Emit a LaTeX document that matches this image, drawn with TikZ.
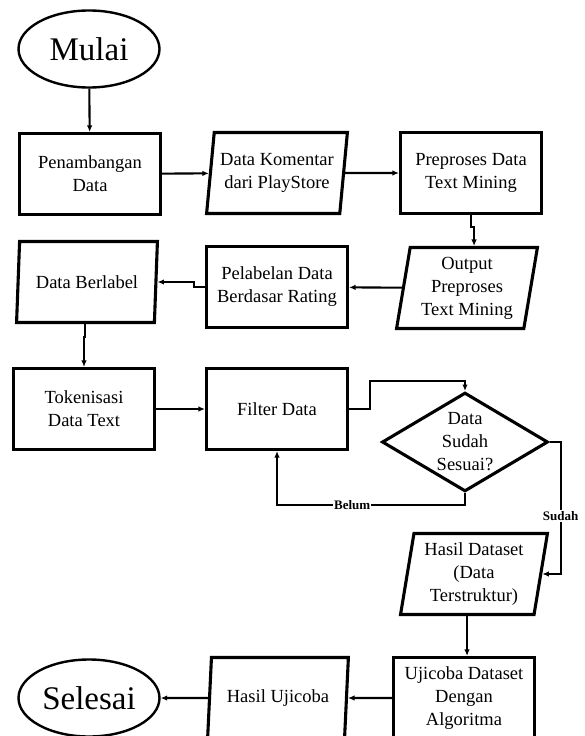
\documentclass[tikz,border=0pt]{standalone}
\usepackage{fontspec}
\setmainfont{Liberation Serif}
\usetikzlibrary{arrows.meta,shapes.geometric}
\tikzset{
  ujung/.style={draw,ellipse,line width=2.4pt,minimum width=141pt,minimum height=77pt,inner sep=0pt,
                font=\fontsize{33}{38}\selectfont},
  proses/.style={draw,rectangle,line width=3.1pt,minimum width=141pt,minimum height=81pt,align=center,
                 inner sep=2pt},
  masukan/.style={draw,trapezium,trapezium left angle=80,trapezium right angle=100,trapezium stretches=true,
                  line width=3.1pt,minimum width=141pt,minimum height=81pt,align=center,inner sep=0pt},
  keputusan/.style={draw,diamond,line width=3.1pt,minimum width=166pt,minimum height=97pt,inner sep=-4pt,
                    align=center},
  panah/.style={-{Latex[length=6.5pt,width=5.5pt]},line width=2.1pt},
  ket/.style={font=\fontsize{13}{15}\selectfont\bfseries,fill=white,inner sep=1pt},
}
\begin{document}
\begin{tikzpicture}[x=1pt,y=-1pt,font=\fontsize{18.5}{23}\selectfont]
  \clip (0,0) rectangle (584,736);
  \node[ujung] (mulai) at (89,49) {Mulai};
  \node[proses] (tambang) at (90,174) {Penambangan\\Data};
  \node[masukan] (komentar) at (277,173) {Data Komentar\\dari PlayStore};
  \node[proses] (prepro) at (471,173) {Preproses Data\\Text Mining};
  \node[masukan] (output) at (467,288) {Output\\Preproses\\Text Mining};
  \node[proses] (pelabelan) at (277,287) {Pelabelan Data\\Berdasar Rating};
  \node[masukan] (berlabel) at (87,282) {Data Berlabel};
  \node[proses] (token) at (84,409) {Tokenisasi\\Data Text};
  \node[proses] (filter) at (277,409) {Filter Data};
  \node[keputusan] (cek) at (465,442) {Data\\Sudah\\Sesuai?};
  \node[masukan,minimum width=147pt] (hasil) at (474,574) {Hasil Dataset\\(Data\\Terstruktur)};
  \node[proses] (uji) at (464,698) {Ujicoba Dataset\\Dengan\\Algoritma};
  \node[masukan] (hasiluji) at (278,698) {Hasil Ujicoba};
  \node[ujung] (selesai) at (89,698) {Selesai};
  \draw[panah] (mulai) -- (tambang);
  \draw[panah] (tambang) -- (komentar);
  \draw[panah] (komentar) -- (prepro);
  \draw[panah] (prepro.south) -- ++(0,12) -| (output.top side);
  \draw[panah] (output) -- (pelabelan);
  \draw[panah] (pelabelan.west) -- ++(-11,0) |- (berlabel);
  \draw[panah] (berlabel.bottom side) -- ++(0,13) -| (token.north);
  \draw[panah] (token) -- (filter);
  \draw[panah] (filter.east) -- ++(21,0) |- ([yshift=10pt]cek.north) -- (cek.north);
  \draw[panah] (cek.south) -- ++(0,12) -| node[ket,pos=0.3] {Belum} (filter.south);
  \draw[panah] (cek.east) -- ++(11,0) |- node[ket,pos=0.28] {Sudah} (hasil);
  \draw[panah] (hasil.bottom side) -- (hasil.bottom side |- uji.north);
  \draw[panah] (uji) -- (hasiluji);
  \draw[panah] (hasiluji) -- (selesai);
\end{tikzpicture}
\end{document}
